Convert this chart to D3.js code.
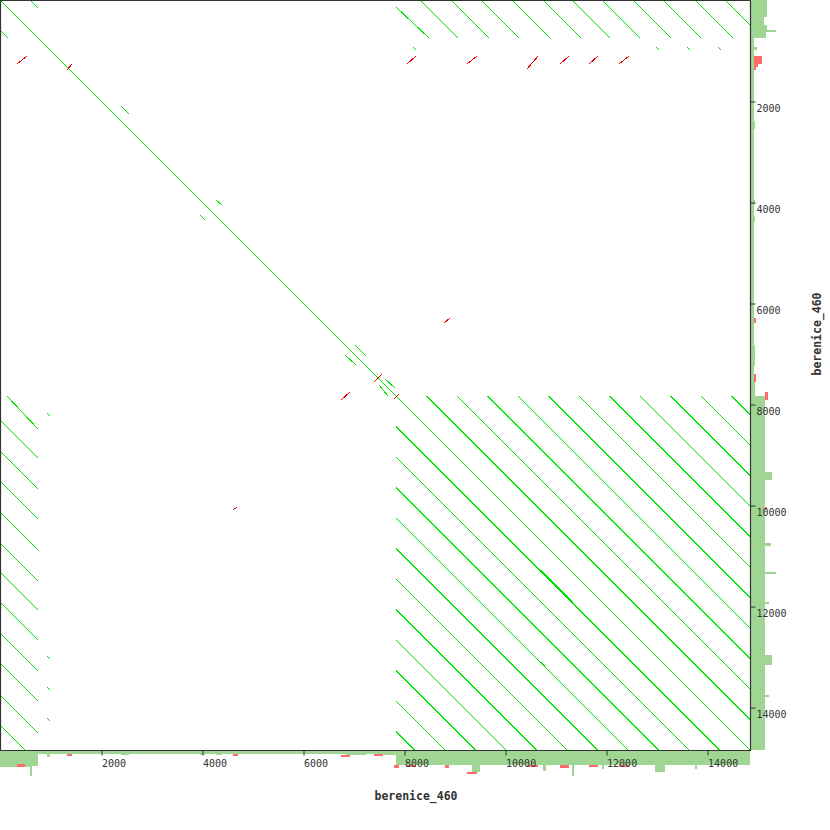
<!DOCTYPE html>
<html>
<head>
<meta charset="utf-8">
<script src="https://cdn.jsdelivr.net/npm/d3@7"></script>
<style>
body { margin: 0; background: #fff; }
svg { display: block; }
.axis text { font-family: "DejaVu Sans Mono", monospace; font-size: 10px; fill: #333; }
.axis line { stroke: #333; }
.title { font-family: "DejaVu Sans Mono", monospace; font-weight: bold; font-size: 11.5px; fill: #333; }
</style>
</head>
<body>
<div class="graphic"></div>
<script>
const seqName = 'berenice_460'
const seqLength = 14850
const tickValues = [2000, 4000, 6000, 8000, 10000, 12000, 14000]

// forward matches [x1, y1, x2, y2] in bp
const forwardHits = [
	[0, 0, 14850, 14850],
	[594, 0, 752, 158], [0, 594, 158, 752],
	[2396, 2099, 2554, 2257],
	[3960, 4257, 4059, 4356], [4277, 3960, 4396, 4059],
	[7029, 6831, 7247, 7049], [6831, 7029, 7049, 7227],
	[7623, 7504, 7821, 7682], [7504, 7623, 7682, 7841],
	// start of the sequence against the repeat block
	[7841, 139, 8494, 752], [8316, 0, 9068, 752], [8930, 0, 9682, 752],
	[9524, 0, 10276, 752], [10138, 0, 10890, 752], [10751, 0, 11503, 752],
	[11326, 0, 12078, 752], [11920, 0, 12672, 752], [12533, 0, 13285, 752],
	[13127, 0, 13879, 752], [13761, 0, 14513, 752], [14355, 0, 14850, 495],
	[139, 7841, 752, 8494], [0, 8316, 752, 9068], [0, 8930, 752, 9682],
	[0, 9524, 752, 10276], [0, 10138, 752, 10890], [0, 10751, 752, 11503],
	[0, 11326, 752, 12078], [0, 11920, 752, 12672], [0, 12533, 752, 13285],
	[0, 13127, 752, 13879], [0, 13761, 752, 14513], [0, 14355, 495, 14850],
	[8177, 931, 8237, 990], [12989, 931, 13048, 990], [13603, 931, 13662, 990], [14216, 931, 14276, 990],
	[931, 8177, 990, 8237], [931, 12989, 990, 13048], [931, 13603, 990, 13662], [931, 14216, 990, 14276],
	// repeat block against itself
	[8445, 7841, 14850, 14246], [9049, 7841, 14850, 13642], [9653, 7841, 14850, 13038],
	[10257, 7841, 14850, 12434], [10861, 7841, 14850, 11830], [11465, 7841, 14850, 11226],
	[12069, 7841, 14850, 10622], [12673, 7841, 14850, 10018], [13277, 7841, 14850, 9414],
	[13881, 7841, 14850, 8810], [14485, 7841, 14850, 8206],
	[7841, 8445, 14246, 14850], [7841, 9049, 13642, 14850], [7841, 9653, 13038, 14850],
	[7841, 10257, 12434, 14850], [7841, 10861, 11830, 14850], [7841, 11465, 11226, 14850],
	[7841, 12069, 10622, 14850], [7841, 12673, 10018, 14850], [7841, 13277, 9414, 14850],
	[7841, 13881, 8810, 14850], [7841, 14485, 8206, 14850],
	// shorter overlapping hits beside the long ones
	[10712, 11296, 11346, 11930], [10712, 13107, 10791, 13186],
]

// reverse matches [x1, y1, x2, y2] in bp
const reverseHits = [
	[337, 1267, 535, 1109], [1327, 1386, 1426, 1267],
	[8059, 1267, 8237, 1109], [9247, 1267, 9445, 1109], [10435, 1366, 10652, 1109],
	[11088, 1267, 11266, 1109], [11662, 1267, 11840, 1109], [12256, 1267, 12454, 1109],
	[8791, 6395, 8910, 6296], [6752, 7920, 6930, 7762], [4613, 10098, 4693, 10039],
	[7405, 7564, 7564, 7405], [7801, 7900, 7900, 7801],
]

// coverage along the sequence [start, end, depth]
const coverage = [
	[0, 337, 16], [337, 495, 12.5], [495, 594, 16], [594, 634, 25], [634, 752, 15],
	[752, 931, 2.5], [931, 990, 6], [990, 2396, 2.5], [2396, 2554, 3.5], [2554, 3960, 2.5],
	[3960, 4059, 3.5], [4059, 4277, 2.5], [4277, 4396, 3.5], [4396, 6831, 2.5],
	[6831, 7247, 3.5], [7247, 7504, 2.5], [7504, 7841, 4],
	[7841, 9346, 14], [9346, 9504, 21], [9504, 10751, 14], [10751, 10811, 20],
	[10811, 11326, 14], [11326, 11365, 25], [11365, 11920, 14], [11920, 11960, 18],
	[11960, 12969, 14], [12969, 13167, 21], [13167, 13761, 14], [13761, 13801, 18],
	[13801, 14850, 14],
]
const reverseCoverageX = [
	[337, 495, 3], [1327, 1426, 2], [4613, 4712, 2], [6752, 6930, 2], [7405, 7583, 2],
	[7801, 7900, 3], [8059, 8237, 2], [8811, 8890, 3], [9247, 9445, 2], [10435, 10652, 2],
	[11088, 11266, 3], [11662, 11840, 2], [12256, 12454, 2],
]
const reverseCoverageY = [
	[1109, 1267, 8], [1267, 1327, 4], [1327, 1386, 2], [6296, 6395, 2],
	[7405, 7564, 2], [7762, 7920, 3], [10039, 10098, 2],
]

const size = 750
const svg = d3.select('.graphic').append('svg')
	.attr('width', 830)
	.attr('height', 830)

const scale = {
	x: d3.scaleLinear().domain([0, seqLength]).range([0, size]),
	y: d3.scaleLinear().domain([0, seqLength]).range([0, size]),
	depth: d3.scaleLinear().domain([0, 10]).range([0, 10]),
}

function greenDepth(pos) {
	const c = coverage.find(d => pos >= d[0] && pos < d[1])
	return c ? c[2] : 0
}

const g = svg.append('g')

// coverage strips
const base = size + 1
const strip = g.append('g').attr('class', 'coverage').attr('shape-rendering', 'crispEdges')

strip.selectAll('.cov-x').data(coverage).enter().append('rect')
	.attr('class', 'cov-x')
	.attr('x', d => scale.x(d[0]))
	.attr('width', d => scale.x(d[1]) - scale.x(d[0]))
	.attr('y', base)
	.attr('height', d => scale.depth(d[2]))
	.attr('fill', '#9fd693')

strip.selectAll('.cov-y').data(coverage).enter().append('rect')
	.attr('class', 'cov-y')
	.attr('y', d => scale.y(d[0]))
	.attr('height', d => scale.y(d[1]) - scale.y(d[0]))
	.attr('x', base)
	.attr('width', d => scale.depth(d[2]))
	.attr('fill', '#9fd693')

strip.selectAll('.rev-x').data(reverseCoverageX).enter().append('rect')
	.attr('class', 'rev-x')
	.attr('x', d => scale.x(d[0]))
	.attr('width', d => scale.x(d[1]) - scale.x(d[0]))
	.attr('y', d => base + scale.depth(greenDepth((d[0] + d[1]) / 2)))
	.attr('height', d => scale.depth(d[2]))
	.attr('fill', '#ff6b6b')

strip.selectAll('.rev-y').data(reverseCoverageY).enter().append('rect')
	.attr('class', 'rev-y')
	.attr('y', d => scale.y(d[0]))
	.attr('height', d => scale.y(d[1]) - scale.y(d[0]))
	.attr('x', d => base + scale.depth(greenDepth((d[0] + d[1]) / 2)))
	.attr('width', d => scale.depth(d[2]))
	.attr('fill', '#ff6b6b')

// hits
function drawHits(data, cls, color) {
	g.append('g').attr('class', cls)
		.selectAll('line').data(data).enter().append('line')
		.attr('x1', d => scale.x(d[0]))
		.attr('y1', d => scale.y(d[1]))
		.attr('x2', d => scale.x(d[2]))
		.attr('y2', d => scale.y(d[3]))
		.attr('stroke', color)
		.attr('stroke-width', 1)
		.attr('shape-rendering', 'crispEdges')
}
drawHits(forwardHits, 'hits-fwd', '#00e600')
drawHits(reverseHits, 'hits-rev', '#ee0000')

// frame
g.append('path')
	.attr('d', `M${size + 0.5},0.5V${size + 0.5}H0.5V0.5H${size + 0.5}`)
	.attr('fill', 'none')
	.attr('stroke', '#333')
	.attr('stroke-width', 1.2)

// axes
const xAxis = g.append('g')
	.attr('class', 'axis axis--x')
	.attr('transform', `translate(0.5,${size + 0.5})`)
	.call(d3.axisBottom(scale.x).tickValues(tickValues).tickSize(5).tickSizeOuter(0).tickFormat(d3.format('d')))
xAxis.select('.domain').remove()
xAxis.selectAll('text')
	.attr('text-anchor', 'start')
	.attr('x', 0)
	.attr('y', 9)

const yAxis = g.append('g')
	.attr('class', 'axis axis--y')
	.attr('transform', `translate(${size + 0.5},0.5)`)
	.call(d3.axisRight(scale.y).tickValues(tickValues).tickSize(5).tickSizeOuter(0).tickFormat(d3.format('d')))
yAxis.select('.domain').remove()
yAxis.selectAll('text')
	.attr('x', 6)
	.attr('y', 3)
	.attr('dy', '0.71em')

// titles
svg.append('text')
	.attr('class', 'title')
	.attr('text-anchor', 'middle')
	.attr('transform', 'translate(416,800)')
	.text(seqName)

svg.append('text')
	.attr('class', 'title')
	.attr('text-anchor', 'middle')
	.attr('transform', 'translate(821,334) rotate(-90)')
	.text(seqName)
</script>
</body>
</html>
